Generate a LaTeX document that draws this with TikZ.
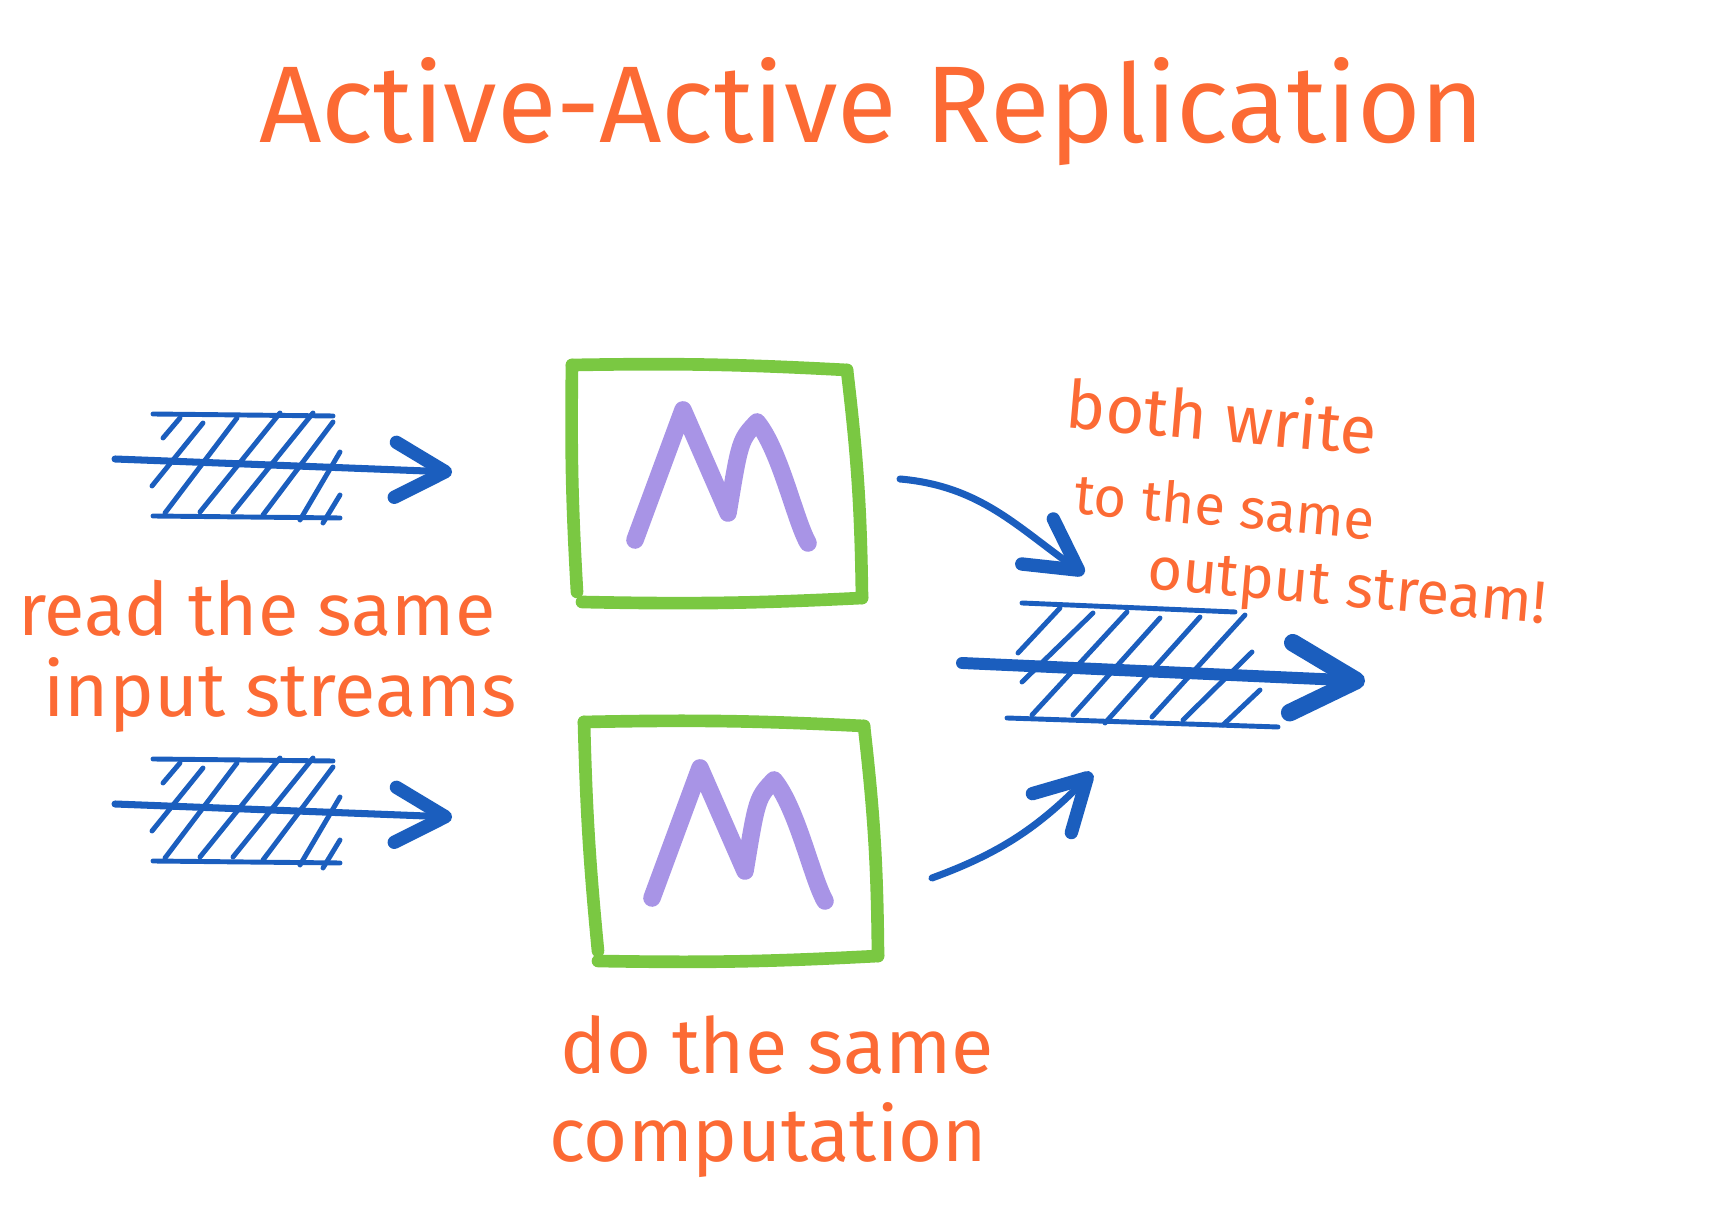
\documentclass[tikz,border=0pt]{standalone}
\usepackage{fontspec}
\setmainfont{Fira Sans}
\usetikzlibrary{arrows.meta}
\definecolor{ink}{RGB}{252,106,52}
\definecolor{boxgreen}{RGB}{122,200,66}
\definecolor{mpurple}{RGB}{168,148,230}
\definecolor{pen}{RGB}{27,94,190}
\tikzset{
  note/.style={text=ink, inner sep=0pt},
  hatch/.style={pen, line width=1.4pt, line cap=round},
  flow/.style={pen, line width=2pt, line cap=round,
    -{Straight Barb[length=5mm,width=5.5mm,line width=3.8pt,round]}},
  bigflow/.style={pen, line width=3.4pt, line cap=round,
    -{Straight Barb[length=6.5mm,width=7mm,line width=5pt,round]}},
  boxedge/.style={boxgreen, line width=3.6pt, line cap=round},
  mstroke/.style={mpurple, line width=5pt, line cap=round, line join=round},
}
\begin{document}
\begin{tikzpicture}[x=0.01cm,y=0.01cm]
    \useasboundingbox (0,0) rectangle (1720,-1219);
    % title
    \node[note] (title) at (872,-112) {\fontsize{31}{31}\selectfont Active-Active Replication};
    % two input streams
    \foreach \dy/\nm in {0/in1,-345/in2}{
        \begin{scope}[yshift=\dy*0.01cm]
            \draw[hatch] (153,-414) -- (333,-416);
            \draw[hatch] (153,-516) -- (340,-518);
            \draw[hatch] (163,-438) -- (180,-418);
            \draw[hatch] (152,-486) -- (203,-423);
            \draw[hatch] (165,-513) -- (237,-418);
            \draw[hatch] (200,-512) -- (280,-413);
            \draw[hatch] (233,-512) -- (313,-413);
            \draw[hatch] (263,-515) -- (333,-422);
            \draw[hatch] (300,-520) -- (340,-452);
            \draw[hatch] (323,-523) -- (340,-495);
            \coordinate (\nm-from) at (115,-459);
            \coordinate (\nm-to) at (452,-472);
            \draw[flow] (\nm-from) -- (\nm-to);
        \end{scope}
    }
    % the two machines
    \draw[boxedge] (572,-365) to[bend left=2] (847,-370);
    \draw[boxedge] (847,-370) to[bend left=3] (862,-598);
    \draw[boxedge] (862,-598) to[bend left=2] (582,-602);
    \draw[boxedge] (577,-592) to[bend left=2] (572,-365);
    \draw[mstroke] (635,-540) -- (683,-410) -- (728,-513)
        .. controls (740,-440) .. (757,-422) .. controls (780,-450) and (795,-520) .. (808,-543);
    \begin{scope}[shift={(17,-358)}]
        \draw[boxedge] (567,-364) to[bend left=2] (847,-368);
        \draw[boxedge] (847,-368) to[bend left=3] (861,-598);
        \draw[boxedge] (861,-598) to[bend left=2] (581,-603);
        \draw[boxedge] (581,-593) to[bend left=2] (567,-364);
        \draw[mstroke] (635,-540) -- (683,-410) -- (728,-513)
            .. controls (740,-440) .. (757,-422) .. controls (780,-450) and (795,-520) .. (808,-543);
    \end{scope}
    % output stream
    \draw[hatch] (1022,-603) -- (1235,-612);
    \draw[hatch] (1007,-718) -- (1278,-727);
    \draw[hatch] (1018,-653) -- (1060,-608);
    \draw[hatch] (1022,-682) -- (1093,-613);
    \draw[hatch] (1032,-715) -- (1127,-612);
    \draw[hatch] (1073,-715) -- (1160,-618);
    \draw[hatch] (1105,-723) -- (1200,-617);
    \draw[hatch] (1152,-717) -- (1245,-615);
    \draw[hatch] (1183,-720) -- (1252,-652);
    \draw[hatch] (1223,-725) -- (1260,-690);
    \coordinate (out-from) at (962,-663);
    \coordinate (out-to) at (1365,-681);
    \draw[bigflow] (out-from) -- (out-to);
    % machines write to it
    \coordinate (m1-out) at (900,-479);
    \coordinate (m2-out) at (932,-878);
    \coordinate (out-top) at (1084,-574);
    \coordinate (out-bot) at (1092,-773);
    \draw[flow] (m1-out) to[out=-5,in=145] (out-top);
    \draw[flow] (m2-out) to[out=20,in=-135] (out-bot);
    % notes
    \node[note] (read) at (257,-608) {\fontsize{21}{21}\selectfont read the same};
    \node[note] (input) at (280,-695) {\fontsize{21.5}{21.5}\selectfont input streams};
    \node[note] (do) at (777,-1045) {\fontsize{22}{22}\selectfont do the same};
    \node[note] (comp) at (768,-1140) {\fontsize{21.5}{21.5}\selectfont computation};
    \node[note, rotate=-5] (both) at (1222,-416) {\fontsize{19}{19}\selectfont both write};
    \node[note, rotate=-5] (to) at (1225,-506) {\fontsize{16}{16}\selectfont to the same};
    \node[note, rotate=-5] (output) at (1347,-592) {\fontsize{17}{17}\selectfont output stream!};
\end{tikzpicture}
\end{document}
